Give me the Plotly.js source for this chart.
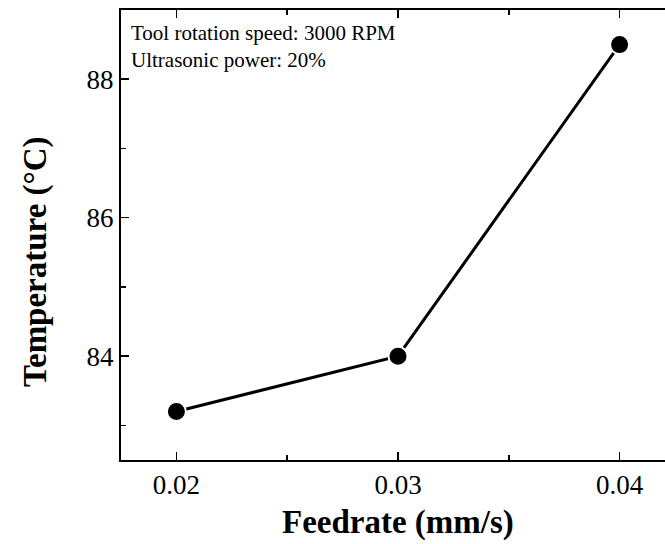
<!DOCTYPE html>
<html><head><meta charset="utf-8">
<script src="https://cdn.plot.ly/plotly-3.0.1.min.js"></script>
<style>html,body{margin:0;padding:0;overflow:hidden;background:#fff;}#chart{width:680px;height:544px;}</style>
</head><body><div id="chart"></div>
<script>
const feedrate = [0.02, 0.03, 0.04];
const temperature = [83.2, 84.0, 88.5];
const xTickVals = [0.02, 0.03, 0.04];
const xTickText = ["0.02", "0.03", "0.04"];
const yTickVals = [84, 86, 88];
const yTickText = ["84", "86", "88"];
const noteLines = ["Tool rotation speed: 3000 RPM", "Ultrasonic power: 20%"];
const xTitle = "Feedrate (mm/s)";
const yTitle = "Temperature (°C)";

const font = "'Liberation Serif'";
const trace = {
  x: feedrate, y: temperature, type: 'scatter', mode: 'lines+markers',
  line: {color: '#000', width: 3},
  marker: {color: '#000', size: 19, line: {color: '#fff', width: 2}},
  cliponaxis: false, hoverinfo: 'skip'
};
const layout = {
  width: 680, height: 544,
  margin: {l: 121, r: 5, t: 10, b: 84},
  paper_bgcolor: '#fff', plot_bgcolor: '#fff',
  showlegend: false,
  font: {family: font, color: '#000'},
  xaxis: {
    range: [0.0175, 0.0425], tickvals: xTickVals, ticktext: xTickText,
    ticks: 'inside', ticklen: 8, tickwidth: 1.5, tickcolor: '#000',
    minor: {ticks: 'inside', ticklen: 5, tickwidth: 1.5, tickcolor: '#000', dtick: 0.005, tick0: 0.02},
    showline: true, linecolor: '#000', linewidth: 2, mirror: 'ticks',
    showgrid: false, zeroline: false,
    tickfont: {family: font, size: 27, color: '#000'}
  },
  yaxis: {
    range: [82.5, 89], tickvals: yTickVals, ticktext: yTickText,
    ticks: 'inside', ticklen: 8, tickwidth: 1.5, tickcolor: '#000',
    minor: {ticks: 'inside', ticklen: 5, tickwidth: 1.5, tickcolor: '#000', dtick: 1, tick0: 83},
    showline: true, linecolor: '#000', linewidth: 2, mirror: 'ticks',
    showgrid: false, zeroline: false,
    tickfont: {family: font, size: 27, color: '#000'}
  },
  annotations: [{
    xref: 'paper', yref: 'paper', x: 0.015, y: 0.98, xanchor: 'left', yanchor: 'top',
    text: noteLines.join('<br>'), showarrow: false, align: 'left',
    font: {family: font, size: 21, color: '#000'}
  }, {
    xref: 'x', yref: 'paper', x: 0.03, y: -0.138, xanchor: 'center', yanchor: 'middle',
    text: '<b>' + xTitle + '</b>', showarrow: false,
    font: {family: font, size: 33, color: '#000'}
  }, {
    xref: 'paper', yref: 'paper', x: 0, xshift: -86, y: 0.44, xanchor: 'center', yanchor: 'middle',
    textangle: -90, text: '<b>' + yTitle + '</b>', showarrow: false,
    font: {family: font, size: 33, color: '#000'}
  }]
};
Plotly.newPlot('chart', [trace], layout, {displayModeBar: false, staticPlot: true});
</script></body></html>
